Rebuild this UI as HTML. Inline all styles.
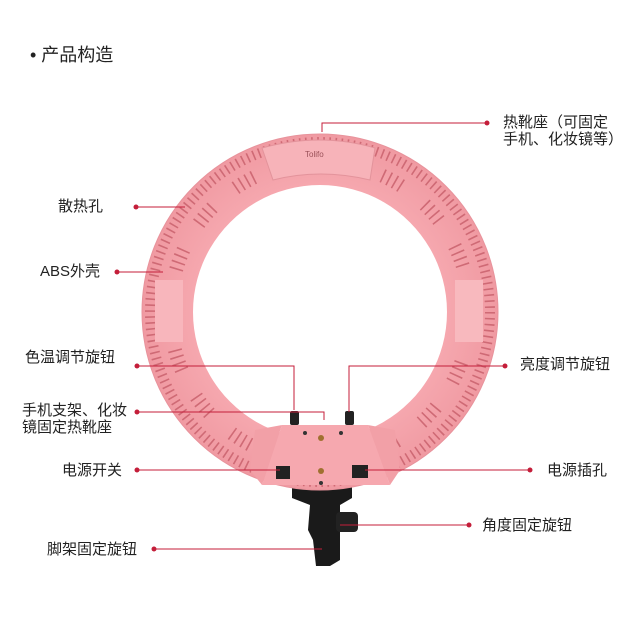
<!DOCTYPE html>
<html><head><meta charset="utf-8"><style>
html,body{margin:0;padding:0;background:#fff;}
body{width:640px;height:641px;position:relative;overflow:hidden;font-family:"Liberation Sans","Noto Sans CJK SC",sans-serif;color:#222;}
.t{position:absolute;font-size:15px;line-height:17px;white-space:nowrap;}
</style></head><body>
<svg width="640" height="641" style="position:absolute;left:0;top:0">
<defs><radialGradient id="g" cx="50%" cy="50%" r="50%">
<stop offset="70%" stop-color="#f6a8af"/><stop offset="100%" stop-color="#f09aa2"/></radialGradient></defs>
<path d="M292 485 L352 485 L352 498 L340 505 L340 560 L330 566 L316 566 L313 540 L308 530 L310 505 L292 498 Z" fill="#1a1a1a"/>
<rect x="336" y="512" width="22" height="20" rx="4" fill="#222"/>
<path fill-rule="evenodd" fill="url(#g)" d="M320 134 a178 178 0 1 0 0.01 0 Z M320 185 a127 127 0 1 1 -0.01 0 Z"/>
<circle cx="320" cy="312" r="170" fill="none" stroke="#cf6a75" stroke-width="10" stroke-dasharray="1.6 4.4"/>
<circle cx="320" cy="312" r="150" fill="none" stroke="#cf6a75" stroke-width="14" stroke-dasharray="1.6 5 1.6 5 1.6 5 1.6 30"/>
<circle cx="320" cy="312" r="178" fill="none" stroke="#e8939c" stroke-width="1"/>
<path d="M262 148 Q320 132 375 148 L370 180 Q320 168 273 180 Z" fill="#f7b3b9" stroke="#e3939b"/>
<text x="305" y="157" font-size="8" fill="#9a5058" font-family="Liberation Sans">Tolifo</text>
<rect x="455" y="280" width="28" height="62" fill="#f8b9be"/>
<rect x="155" y="280" width="28" height="62" fill="#f8b6bc"/>
<path d="M282 425 L368 425 L390 485 L262 485 Z" fill="#f6a8af"/>
<path d="M255 430 L282 425 L262 485 L250 470 Z" fill="#f2a0a7"/>
<path d="M368 425 L395 430 L400 470 L390 485 Z" fill="#f2a0a7"/>
<rect x="276" y="466" width="14" height="13" fill="#222"/>
<rect x="352" y="465" width="16" height="13" fill="#222"/>
<circle cx="321" cy="438" r="3" fill="#a07030"/><circle cx="321" cy="471" r="3" fill="#a07030"/>
<circle cx="305" cy="433" r="2" fill="#333"/><circle cx="341" cy="433" r="2" fill="#333"/><circle cx="321" cy="483" r="2" fill="#333"/>
<rect x="290" y="411" width="9" height="14" rx="2" fill="#222"/>
<rect x="345" y="411" width="9" height="14" rx="2" fill="#222"/>
<g stroke="#c41e3a" stroke-width="1" fill="none">
<path d="M487 123 H322 V132"/>
<path d="M136 207 H185"/>
<path d="M117 272 H163"/>
<path d="M137 366 H294 V410"/>
<path d="M137 412 H324 V420"/>
<path d="M137 470 H280"/>
<path d="M154 549 H322"/>
<path d="M505 366 H349 V412"/>
<path d="M530 470 H365"/>
<path d="M469 525 H340"/>
</g>
<g fill="#c41e3a">
<circle cx="487" cy="123" r="2.5"/><circle cx="136" cy="207" r="2.5"/><circle cx="117" cy="272" r="2.5"/>
<circle cx="137" cy="366" r="2.5"/><circle cx="137" cy="412" r="2.5"/><circle cx="137" cy="470" r="2.5"/>
<circle cx="154" cy="549" r="2.5"/><circle cx="505" cy="366" r="2.5"/><circle cx="530" cy="470" r="2.5"/><circle cx="469" cy="525" r="2.5"/>
</g>
</svg>
<div class="t" style="left:30px;top:44px;font-size:18px;line-height:22px">• 产品构造</div>
<div class="t" style="left:503px;top:114px">热靴座（可固定<br>手机、化妆镜等）</div>
<div class="t" style="left:58px;top:198px">散热孔</div>
<div class="t" style="left:40px;top:263px">ABS外壳</div>
<div class="t" style="left:25px;top:349px">色温调节旋钮</div>
<div class="t" style="left:22px;top:402px">手机支架、化妆<br>镜固定热靴座</div>
<div class="t" style="left:62px;top:462px">电源开关</div>
<div class="t" style="left:47px;top:541px">脚架固定旋钮</div>
<div class="t" style="left:520px;top:356px">亮度调节旋钮</div>
<div class="t" style="left:547px;top:462px">电源插孔</div>
<div class="t" style="left:482px;top:517px">角度固定旋钮</div>
</body></html>
